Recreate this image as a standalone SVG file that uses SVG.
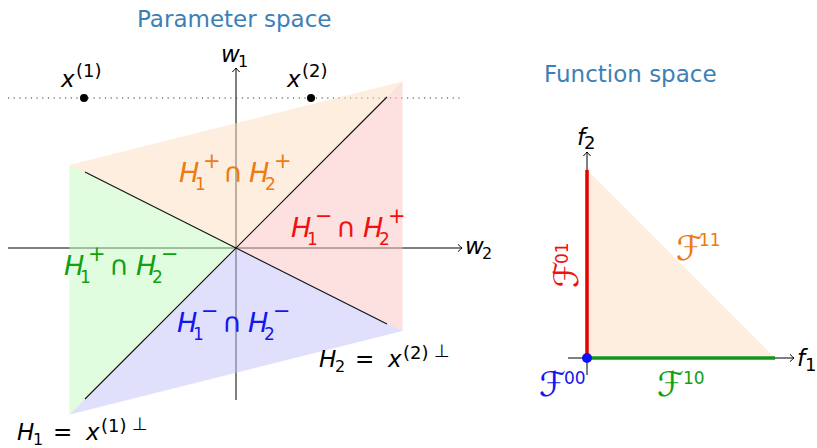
<svg xmlns="http://www.w3.org/2000/svg" width="817" height="448" viewBox="0 0 817 448">
<style>
.title{font-family:"DejaVu Sans",sans-serif;font-size:23px;fill:#3d80b5}
.m{font-family:"DejaVu Sans",sans-serif}
.it{font-style:italic}
.ax{stroke:#000;stroke-width:1;fill:none}
.hl{stroke:#111;stroke-width:1.1;fill:none}
.big{font-size:27px}
.sub{font-size:17px}
.sm{font-size:16px}
.op{font-size:21px}
.lab{font-size:23px}
.sup{font-size:18px}
.cal{font-size:34px;font-style:italic}
.cs{font-size:17px}
.orange{fill:#ee7a12}
.red{fill:#f01010}
.green{fill:#10a010}
.blue{fill:#1515f0}
</style>
<defs>
<marker id="arr" viewBox="-6 -5 8 10" markerWidth="8" markerHeight="10" refX="0" refY="0" orient="auto" markerUnits="userSpaceOnUse">
<path d="M-4,-3.6 Q-1.2,-1 0,0 Q-1.2,1 -4,3.6" stroke="#000" stroke-width="1" fill="none"/>
</marker>
</defs>

<g id="param-title"><text class="title" x="137" y="27">Parameter space</text></g>
<g id="func-title"><text class="title" x="544" y="82">Function space</text></g>

<g id="param-axes">
<line class="ax" x1="8" y1="248" x2="462" y2="248" marker-end="url(#arr)"/>
<line class="ax" x1="236" y1="400" x2="236" y2="68" marker-end="url(#arr)"/>
<line x1="8" y1="98" x2="463" y2="98" stroke="#333" stroke-width="1.1" stroke-dasharray="1.2 4.5"/>
</g>

<g id="regions" fill-opacity="0.5">
<polygon id="region-pp" points="236,248 69.5,165 402.5,81.5" fill="#fbddc1"/>
<polygon id="region-mp" points="236,248 402.5,81.5 402.5,331" fill="#fbc1c1"/>
<polygon id="region-mm" points="236,248 402.5,331 69.5,414.5" fill="#c1c1f9"/>
<polygon id="region-pm" points="236,248 69.5,414.5 69.5,165" fill="#c1fbc1"/>
</g>

<g id="connectors">
<line class="hl" x1="387" y1="97" x2="85" y2="399"/>
<line class="hl" x1="85" y1="172" x2="387" y2="324"/>
</g>

<g id="points">
<circle cx="84" cy="98" r="4" fill="#000"/>
<circle cx="311" cy="98" r="4" fill="#000"/>
</g>

<g id="axis-labels" class="m">
<text><tspan class="it lab" x="221" y="62">w</tspan><tspan class="sm" x="238" y="67">1</tspan></text>
<text><tspan class="it lab" x="465" y="254">w</tspan><tspan class="sm" x="482" y="259">2</tspan></text>
<text><tspan class="it lab" x="61" y="87">x</tspan><tspan class="sup" x="76" y="77">(1)</tspan></text>
<text><tspan class="it lab" x="287" y="87">x</tspan><tspan class="sup" x="302" y="77">(2)</tspan></text>
</g>

<g id="label-pp" class="m orange">
<text><tspan class="it big" x="179" y="182">H</tspan><tspan class="sub" x="195" y="190">1</tspan><tspan class="op" x="203" y="168">+</tspan><tspan class="big" x="223" y="182">∩</tspan><tspan class="it big" x="249" y="182">H</tspan><tspan class="sub" x="265" y="190">2</tspan><tspan class="op" x="274" y="168">+</tspan></text>
</g>
<g id="label-mp" class="m red">
<text><tspan class="it big" x="291" y="237">H</tspan><tspan class="sub" x="307" y="245">1</tspan><tspan class="op" x="315" y="223">−</tspan><tspan class="big" x="336" y="237">∩</tspan><tspan class="it big" x="363" y="237">H</tspan><tspan class="sub" x="379" y="245">2</tspan><tspan class="op" x="388" y="223">+</tspan></text>
</g>
<g id="label-pm" class="m green">
<text><tspan class="it big" x="64" y="275">H</tspan><tspan class="sub" x="80" y="283">1</tspan><tspan class="op" x="88" y="261">+</tspan><tspan class="big" x="109" y="275">∩</tspan><tspan class="it big" x="136" y="275">H</tspan><tspan class="sub" x="152" y="283">2</tspan><tspan class="op" x="161" y="261">−</tspan></text>
</g>
<g id="label-mm" class="m blue">
<text><tspan class="it big" x="177" y="332">H</tspan><tspan class="sub" x="193" y="340">1</tspan><tspan class="op" x="201" y="318">−</tspan><tspan class="big" x="222" y="332">∩</tspan><tspan class="it big" x="248" y="332">H</tspan><tspan class="sub" x="264" y="340">2</tspan><tspan class="op" x="273" y="318">−</tspan></text>
</g>

<g id="label-H2" class="m">
<text><tspan class="it lab" x="319" y="367">H</tspan><tspan class="sm" x="335" y="372">2</tspan><tspan class="lab" x="355" y="367">=</tspan><tspan class="it lab" x="388" y="367">x</tspan><tspan class="sup" x="403" y="359">(2)</tspan><tspan class="sup" x="434" y="357">⊥</tspan></text>
</g>
<g id="label-H1" class="m">
<text><tspan class="it lab" x="17" y="440">H</tspan><tspan class="sm" x="33" y="445">1</tspan><tspan class="lab" x="53" y="440">=</tspan><tspan class="it lab" x="86" y="440">x</tspan><tspan class="sup" x="101" y="432">(1)</tspan><tspan class="sup" x="132" y="430">⊥</tspan></text>
</g>

<g id="func-axes">
<line class="ax" x1="568" y1="358" x2="794" y2="358" marker-end="url(#arr)"/>
<line class="ax" x1="587" y1="375" x2="587" y2="152" marker-end="url(#arr)"/>
</g>
<g id="F11-region"><polygon points="587,170 775,358 587,358" fill="#fdeee0"/></g>
<g id="F01-edge"><line x1="587" y1="170" x2="587" y2="358" stroke="#e60000" stroke-width="3.5"/></g>
<g id="F10-edge"><line x1="587" y1="358" x2="775" y2="358" stroke="#12961a" stroke-width="3.5"/></g>
<g id="F00-point"><circle cx="587" cy="358" r="5" fill="#1010f0"/></g>

<g id="func-axis-labels" class="m">
<text><tspan class="it lab" x="577" y="145">f</tspan><tspan class="sup" x="584" y="149">2</tspan></text>
<text><tspan class="it lab" x="797" y="366">f</tspan><tspan class="sup" x="805" y="371">1</tspan></text>
</g>
<g id="F-labels" class="m">
<text class="orange"><tspan class="cal" x="676" y="260">ℱ</tspan><tspan class="cs" x="699" y="246">11</tspan></text>
<text class="blue"><tspan class="cal" x="539" y="396">ℱ</tspan><tspan class="cs" x="564" y="384">00</tspan></text>
<text class="green"><tspan class="cal" x="657" y="396">ℱ</tspan><tspan class="cs" x="683" y="384">10</tspan></text>
<text class="red" transform="translate(578,288) rotate(-90)"><tspan class="cal" x="0" y="0">ℱ</tspan><tspan class="cs" x="24" y="-10">01</tspan></text>
</g>
</svg>
